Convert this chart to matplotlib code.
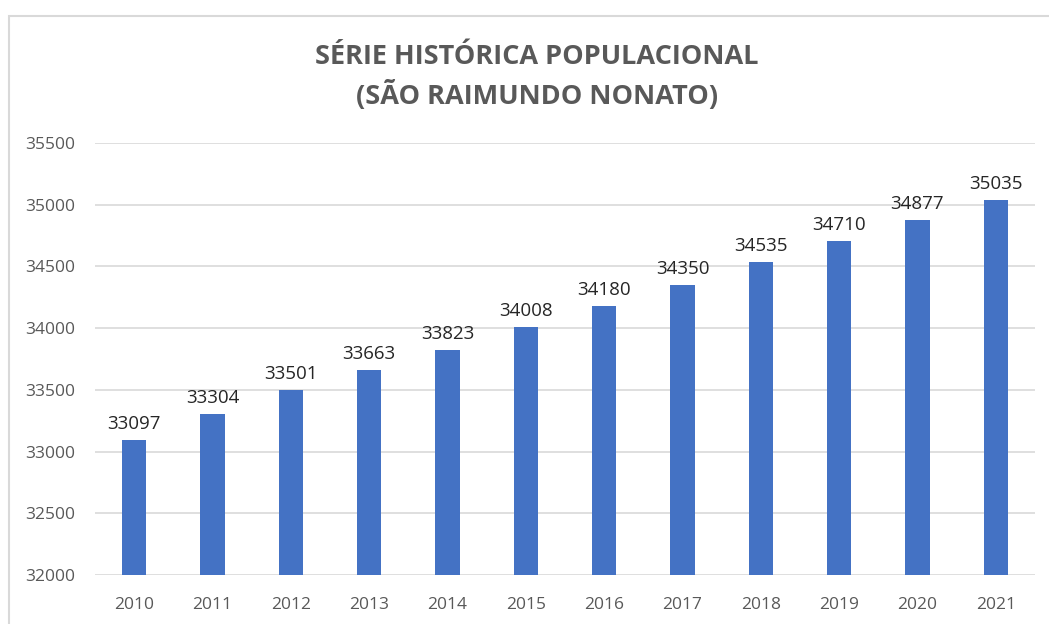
import matplotlib.pyplot as plt
from matplotlib.patches import Rectangle

# dados
anos = ["2010", "2011", "2012", "2013", "2014", "2015",
        "2016", "2017", "2018", "2019", "2020", "2021"]
populacao = [33097, 33304, 33501, 33663, 33823, 34008,
             34180, 34350, 34535, 34710, 34877, 35035]

W, H = 1049, 624
fig = plt.figure(figsize=(W / 100, H / 100), dpi=100)
plt.rcParams['font.family'] = ['Open Sans', 'DejaVu Sans']

# moldura do gráfico (cortada à direita e embaixo)
fig.patches.append(Rectangle((9 / W, -0.05), 1.2, 1 - 16 / H + 0.05,
                             transform=fig.transFigure, fill=False,
                             edgecolor="#d9d9d9", linewidth=1.5))

ax = fig.add_axes([95 / W, 1 - 575 / H, (1035 - 95) / W, (575 - 143) / H])
x = range(len(anos))
bars = ax.bar(x, populacao, width=0.31, color="#4472c4", zorder=3)

ax.set_ylim(32000, 35500)
ax.set_xlim(-0.5, len(anos) - 0.5)
ax.set_yticks(range(32000, 35501, 500))
ax.set_xticks(list(x))
ax.set_xticklabels(anos)
ax.grid(axis="y", color="#d9d9d9", linewidth=1.2, zorder=0)
for s in ax.spines.values():
    s.set_visible(False)
ax.tick_params(length=0, colors="#595959", labelsize=12.5)
ax.tick_params(axis="x", pad=16)
ax.tick_params(axis="y", pad=14)

for b, v in zip(bars, populacao):
    ax.annotate(str(v), (b.get_x() + b.get_width() / 2, v),
                xytext=(0, 5), textcoords="offset points",
                ha="center", va="bottom", fontsize=13.5, color="#262626")

fig.text(537 / W, 1 - 77 / H, "SÉRIE HISTÓRICA POPULACIONAL\n(SÃO RAIMUNDO NONATO)",
         ha="center", va="center", fontsize=19.5, fontweight="bold",
         color="#595959", linespacing=1.45)

fig.savefig("out.png", dpi=100)
